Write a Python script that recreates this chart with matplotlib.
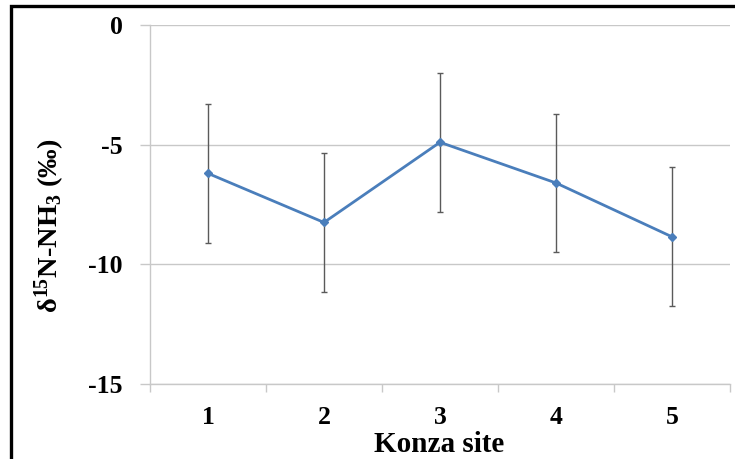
import matplotlib
matplotlib.use("Agg")
import matplotlib.pyplot as plt
from matplotlib.patches import Rectangle

# Site means and error bar half-widths (δ15N-NH3, ‰)
sites = [1, 2, 3, 4, 5]
site_labels = ["1", "2", "3", "4", "5"]
means = [-6.2, -8.25, -4.9, -6.6, -8.85]
errors = [2.9, 2.9, 2.9, 2.9, 2.9]
y_ticks = [0, -5, -10, -15]

plt.rcParams["font.family"] = ["Liberation Serif", "DejaVu Serif"]
plt.rcParams["font.weight"] = "bold"
plt.rcParams["mathtext.fontset"] = "custom"
plt.rcParams["mathtext.rm"] = "Liberation Serif:bold"
plt.rcParams["mathtext.it"] = "Liberation Serif:bold"
plt.rcParams["mathtext.bf"] = "Liberation Serif:bold"

W, H = 735, 459
fig = plt.figure(figsize=(W / 100, H / 100), dpi=100)
ax = fig.add_axes([150 / W, 1 - 384 / H, 580 / W, 359 / H])

grid_col = "#C8C8C8"
blue = "#4A7EBB"

ax.errorbar(sites, means, yerr=errors, fmt="none", ecolor="#5A5A5A",
            elinewidth=1.0, capsize=2.5, capthick=1.0, zorder=3)
ax.plot(sites, means, color=blue, lw=2.0, marker="D", markersize=4.5,
        markerfacecolor=blue, markeredgecolor=blue, zorder=4)

ax.set_xlim(0.5, 5.5)
ax.set_ylim(-15, 0)
ax.set_yticks(y_ticks)
ax.set_yticklabels([str(v) for v in y_ticks])
ax.set_xticks(sites)
ax.set_xticklabels(site_labels)
ax.set_xticks([0.5, 1.5, 2.5, 3.5, 4.5, 5.5], minor=True)

ax.yaxis.grid(True, color=grid_col, lw=1.0)
ax.set_axisbelow(True)
for s in ("top", "right"):
    ax.spines[s].set_visible(False)
for s in ("left", "bottom"):
    ax.spines[s].set_color(grid_col)
    ax.spines[s].set_linewidth(1.0)

ax.tick_params(axis="y", length=7, color=grid_col, width=1.0, pad=12.5,
               labelsize=18.5)
ax.tick_params(axis="x", which="major", length=0, pad=16, labelsize=18.5)
ax.tick_params(axis="x", which="minor", length=6, color=grid_col, width=1.0)
for t in ax.get_xticklabels() + ax.get_yticklabels():
    t.set_fontweight("bold")

fig.text(439 / W, 1 - 452 / H, "Konza site", ha="center", va="baseline",
         fontsize=21, fontweight="bold")
fig.text(50 / W, 1 - 226 / H, r"δ$^{15}$N-NH$_3$ (‰)", rotation=90,
         ha="center", va="center", fontsize=20.5, fontweight="bold")

# Outer frame
fig.patches.append(Rectangle((10.5 / W, -0.1), 1.2, 1.1 - 6.5 / H,
                             transform=fig.transFigure, fill=False,
                             edgecolor="black", lw=2.4, zorder=10))

fig.savefig("out.png", dpi=100)
